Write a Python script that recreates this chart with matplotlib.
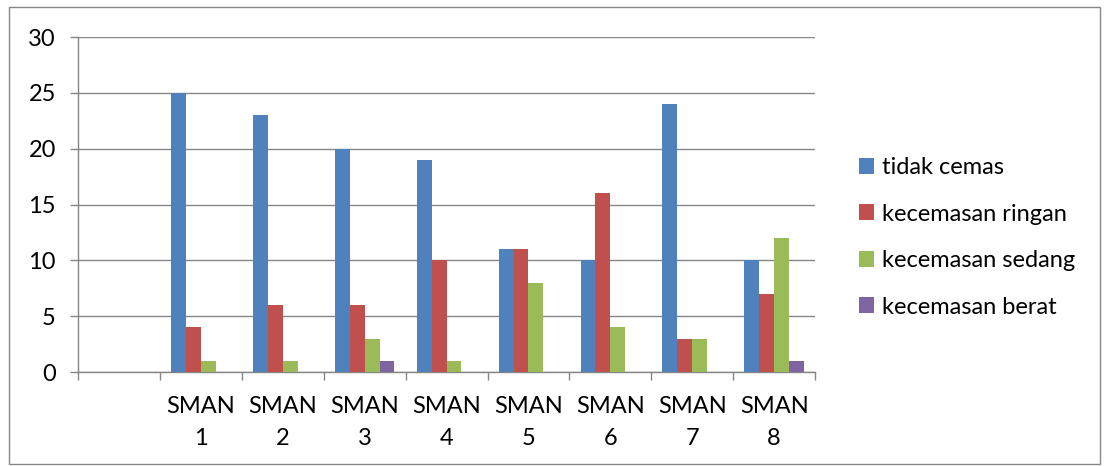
import numpy as np
import matplotlib.pyplot as plt
from matplotlib.patches import Rectangle

categories = ["", "SMAN\n1", "SMAN\n2", "SMAN\n3", "SMAN\n4",
              "SMAN\n5", "SMAN\n6", "SMAN\n7", "SMAN\n8"]
tidak_cemas = [0, 25, 23, 20, 19, 11, 10, 24, 10]
ringan = [0, 4, 6, 6, 10, 11, 16, 3, 7]
sedang = [0, 1, 1, 3, 1, 8, 4, 3, 12]
berat = [0, 0, 0, 1, 0, 0, 0, 0, 1]

series = [
    ("tidak cemas", tidak_cemas, "#4F81BD"),
    ("kecemasan ringan", ringan, "#C0504D"),
    ("kecemasan sedang", sedang, "#9BBB59"),
    ("kecemasan berat", berat, "#8064A2"),
]

plt.rcParams["font.family"] = ["Lato", "DejaVu Sans"]
grid_col = "#868686"
fs = 17

fig = plt.figure(figsize=(11.06, 4.66), dpi=100)
ax = fig.add_axes([0.0705, 0.2017, 0.6665, 0.7189])

x = np.arange(len(categories))
w = 1 / 5.5
for i, (name, vals, col) in enumerate(series):
    ax.bar(x + (i - 1.5) * w, vals, w, color=col, label=name, zorder=3)

ax.set_xlim(-0.5, len(categories) - 0.5)
ax.set_ylim(0, 30)
ax.set_yticks(range(0, 31, 5))
ax.yaxis.grid(True, color=grid_col, linewidth=1, zorder=0)

ax.set_xticks(x)
ax.set_xticklabels(categories, fontsize=fs, linespacing=1.65)
ax.set_xticks(np.arange(-0.5, len(categories), 1), minor=True)
ax.tick_params(axis="x", which="major", length=0, pad=17)
ax.tick_params(axis="x", which="minor", length=6, width=1, color=grid_col)
ax.tick_params(axis="y", length=6, width=1, color=grid_col, labelsize=fs, pad=10)

for side in ["top", "right"]:
    ax.spines[side].set_visible(False)
for side in ["left", "bottom"]:
    ax.spines[side].set_color(grid_col)
    ax.spines[side].set_linewidth(1)

ax.legend(loc="upper left", bbox_to_anchor=(0.768, 0.683), bbox_transform=fig.transFigure,
          frameon=False, fontsize=fs, handlelength=0.65, handleheight=0.65,
          handletextpad=0.35, labelspacing=1.08, borderaxespad=0)

fig.patches.append(Rectangle((0.008, 0.004), 0.987, 0.981, transform=fig.transFigure,
                             fill=False, edgecolor=grid_col, linewidth=1))

plt.savefig("out.png", dpi=100)
